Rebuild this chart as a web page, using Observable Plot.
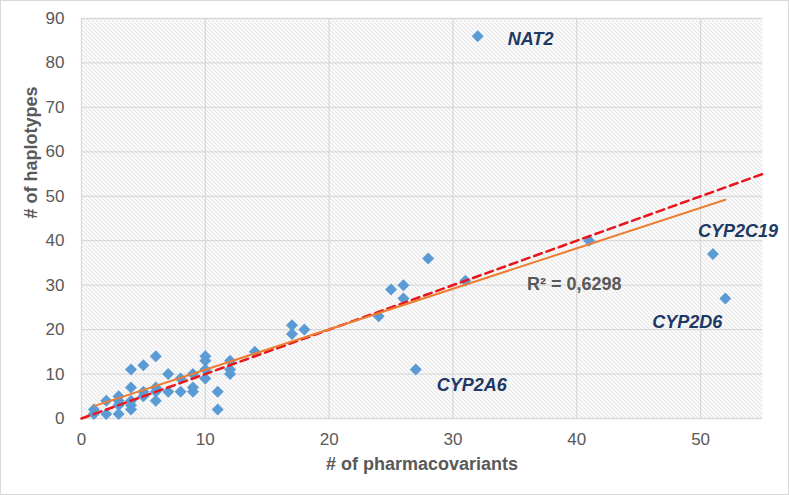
<!DOCTYPE html>
<html><head><meta charset="utf-8">
<script src="https://cdn.jsdelivr.net/npm/d3@7"></script>
<script src="https://cdn.jsdelivr.net/npm/@observablehq/plot@0.6"></script>
<style>
html,body{margin:0;padding:0;background:#fff;overflow:hidden}
#chart svg{display:block;outline:1px solid #d9d9d9;outline-offset:-1px}
</style></head><body><div id="chart"></div>
<script>
// ---- data ----
const pharmacovariants = [1,1,2,2,3,3,3,3,4,4,4,4,4,5,5,5,6,6,6,6,7,7,8,8,9,9,9,10,10,10,10,11,11,12,12,12,14,17,17,18,24,25,26,26,27,28,31,32,41,51,52];
const haplotypes       = [2,1,4,1,5,4,3,1,11,7,4,3,2,12,6,5,14,7,6,4,10,6,9,6,10,7,6,14,13,11,9,6,2,13,11,10,15,21,19,20,23,29,30,27,11,36,31,86,40,37,27];
const geneNames = ["NAT2","CYP2C19","CYP2D6","CYP2A6"];
const geneX = [32,51,52,27];
const geneY = [86,37,27,11];
const identityX = [0,55];
const identityY = [0,55];
const xTicks = [0,10,20,30,40,50];
const yTicks = [0,10,20,30,40,50,60,70,80,90];
const xTitle = "# of pharmacovariants";
const yTitle = "# of haplotypes";
const rSquaredText = "R² = 0,6298";

const points = pharmacovariants.map((x,i)=>({x, y: haplotypes[i]}));
const identity = identityX.map((x,i)=>({x, y: identityY[i]}));
const genes = geneNames.map((name,i)=>({name, x: geneX[i], y: geneY[i]}));

const font = "Liberation Sans, Arial, sans-serif";
const navy = "#203864";
const gray = "#595959";

function geneLabel(name, dx, dy, anchor) {
  return Plot.text(genes.filter(d=>d.name===name), {
    x:"x", y:"y", text:"name", dx, dy, textAnchor: anchor,
    fill: navy, fontWeight:"bold", fontStyle:"italic", fontSize:18,
    fontFamily: font, ariaLabel:"gene-label"
  });
}

const svg = Plot.plot({
  width: 789, height: 495,
  marginLeft: 81, marginRight: 27, marginTop: 18, marginBottom: 77,
  style: {fontFamily: font, background:"#fff"},
  x: {domain:[0,55], axis:null},
  y: {domain:[0,90], axis:null},
  marks: [
    Plot.frame({fill:"url(#hatch)", stroke:null}),
    Plot.gridX(xTicks, {stroke:"#d9d9d9", strokeOpacity:1, strokeWidth:1.3}),
    Plot.gridY(yTicks, {stroke:"#d9d9d9", strokeOpacity:1, strokeWidth:1.3}),
    Plot.axisX(xTicks, {tickSize:0, tickPadding:14, fontSize:17, fill:gray, label:null, fontFamily:font}),
    Plot.axisY(yTicks, {tickSize:0, tickPadding:17, fontSize:17, fill:gray, label:null, fontFamily:font}),
    Plot.text([xTitle], {frameAnchor:"bottom", dy:51, fontSize:18, fontWeight:"bold", fill:gray, fontFamily:font}),
    Plot.text([yTitle], {frameAnchor:"left", dx:-50, rotate:-90, fontSize:18, fontWeight:"bold", fill:gray, fontFamily:font}),
    Plot.dot(points, {x:"x", y:"y", symbol:"diamond2", r:5.4, fill:"#5b9bd5", stroke:null}),
    Plot.line(identity, {x:"x", y:"y", stroke:"#e8161c", strokeWidth:2.5, strokeDasharray:"8,5"}),
    Plot.linearRegressionY(points, {x:"x", y:"y", ci:0, stroke:"#ed7d31", strokeWidth:2}),
    Plot.text([rSquaredText], {x:()=>39.8, y:()=>30.2, fontSize:18, fontWeight:"bold", fill:gray, fontFamily:font, ariaLabel:"r2-label"}),
    geneLabel("NAT2", 30, 3, "start"),
    geneLabel("CYP2C19", 25, -23, "middle"),
    geneLabel("CYP2D6", -38, 24, "middle"),
    geneLabel("CYP2A6", 56, 16, "middle")
  ]
});

const ns = "http://www.w3.org/2000/svg";
const defs = document.createElementNS(ns, "defs");
defs.innerHTML = '<pattern id="hatch" patternUnits="userSpaceOnUse" width="4" height="4"><rect width="4" height="4" fill="#ffffff"/><path d="M-1,-1L5,5M-1,3L1,5M3,-1L5,1" stroke="#cdcdcd" stroke-width="0.9"/></pattern>';
svg.insertBefore(defs, svg.firstChild);
document.getElementById("chart").append(svg);

function boxes(selector, padX, boxH) {
  svg.querySelectorAll(selector + " text").forEach(t => {
    const b = t.getBBox();
    const cy = b.y + b.height / 2;
    const r = document.createElementNS(ns, "rect");
    r.setAttribute("x", b.x - padX);
    r.setAttribute("y", cy - boxH / 2);
    r.setAttribute("width", b.width + 2 * padX);
    r.setAttribute("height", boxH);
    r.setAttribute("fill", "#ffffff");
    r.setAttribute("stroke", "none");
    const tr = t.getAttribute("transform");
    if (tr) r.setAttribute("transform", tr);
    t.parentNode.insertBefore(r, t);
  });
}
boxes('g[aria-label="gene-label"]', 9, 32);
boxes('g[aria-label="r2-label"]', 5, 22);
</script></body></html>
